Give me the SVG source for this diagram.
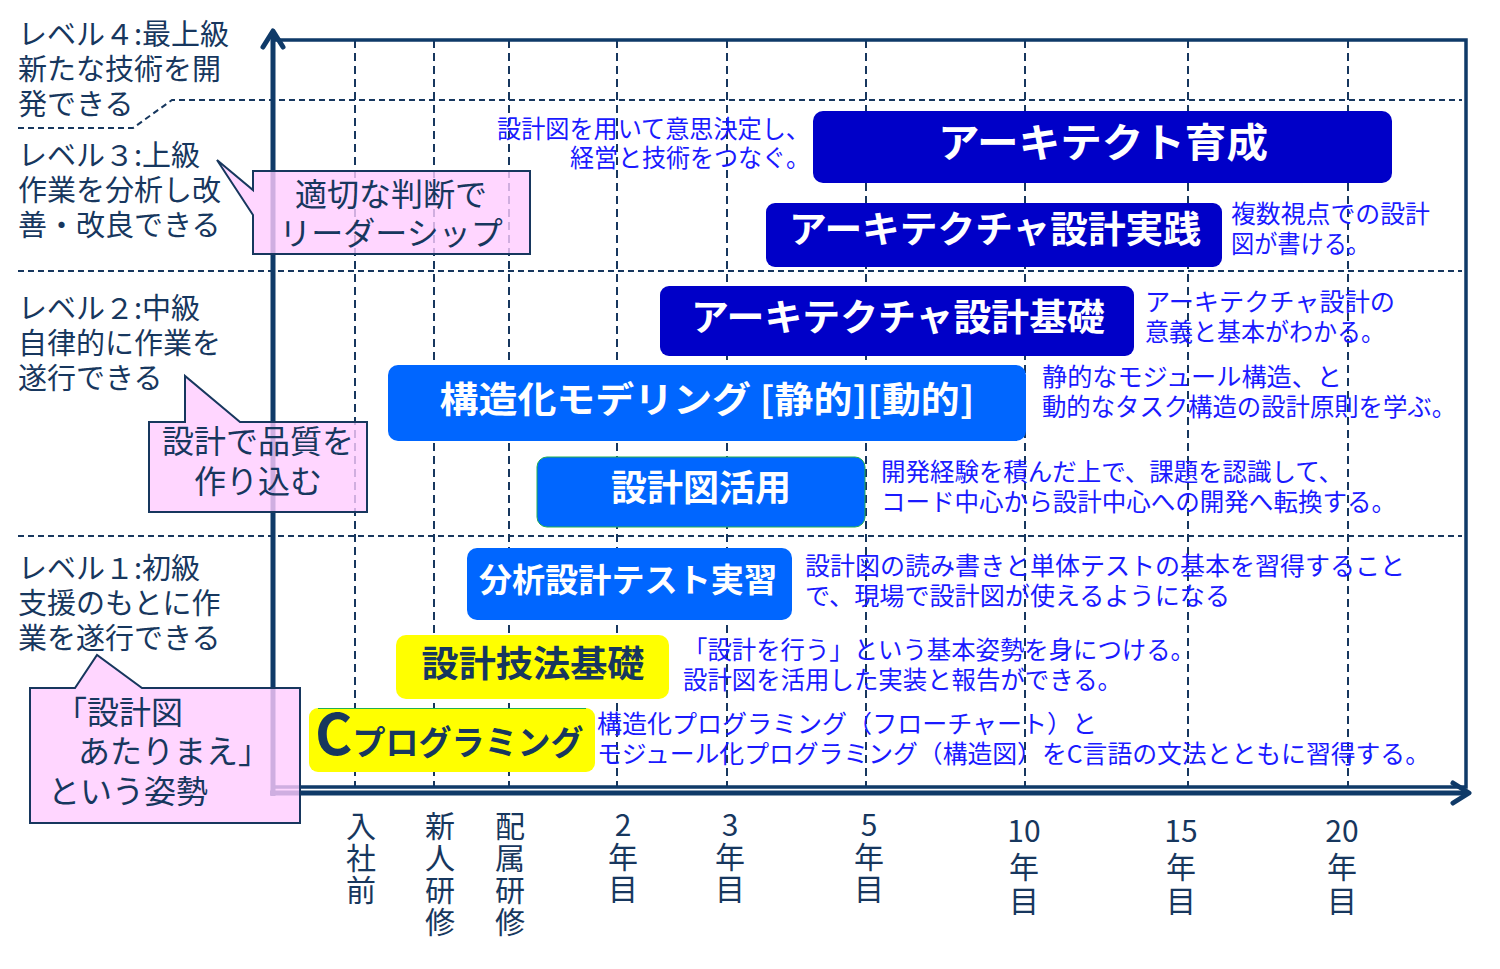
<svg xmlns="http://www.w3.org/2000/svg" width="1500" height="969" viewBox="0 0 1500 969">
<defs>
<style>
.lvl{font-family:"Noto Sans CJK JP","Noto Sans",sans-serif;font-size:29px;fill:#17375E}
.ax{font-family:"Noto Sans CJK JP","Noto Sans",sans-serif;font-size:30px;fill:#17375E;text-anchor:middle}
.desc{font-family:"Noto Sans CJK JP","Noto Sans",sans-serif;font-size:24.5px;fill:#1a1aff}
.bt{font-family:"Noto Sans CJK JP","Noto Sans",sans-serif;font-weight:bold;fill:#ffffff;text-anchor:middle}
.yt{font-family:"Noto Sans CJK JP","Noto Sans",sans-serif;font-weight:bold;fill:#17375E}
.co{font-family:"Noto Sans CJK JP","Noto Sans",sans-serif;font-size:32px;fill:#17375E}
.hd{stroke:#17375E;stroke-width:2;stroke-dasharray:6 4;fill:none}
.vd{stroke:#17375E;stroke-width:2;stroke-dasharray:8 5;fill:none}
.dk{fill:#0000C8}
.lt{fill:#0066FF}
.yl{fill:#FFFF00}
.call{fill:#FFCCFF;fill-opacity:0.8;stroke:#17375E;stroke-width:2}
</style>
</defs>
<rect width="1500" height="969" fill="#ffffff"/>

<g id="grid">
<line class="vd" x1="355" y1="40" x2="355" y2="787"/>
<line class="vd" x1="434" y1="40" x2="434" y2="787"/>
<line class="vd" x1="509" y1="40" x2="509" y2="787"/>
<line class="vd" x1="617" y1="40" x2="617" y2="787"/>
<line class="vd" x1="727" y1="40" x2="727" y2="787"/>
<line class="vd" x1="866" y1="40" x2="866" y2="787"/>
<line class="vd" x1="1025" y1="40" x2="1025" y2="787"/>
<line class="vd" x1="1188" y1="40" x2="1188" y2="787"/>
<line class="vd" x1="1348" y1="40" x2="1348" y2="787"/>
<polyline class="hd" points="18,128 133,128 172,100 1462,100"/>
<line class="hd" x1="18" y1="271" x2="1462" y2="271"/>
<line class="hd" x1="18" y1="536" x2="1462" y2="536"/>
</g>

<g id="frame">
<polyline points="273,40 1466,40 1466,787 273,787" fill="none" stroke="#0f3a68" stroke-width="3.5"/>
<line x1="273" y1="796" x2="273" y2="32" stroke="#0f3a68" stroke-width="5"/>
<polyline points="263,47 273,31 283,47" fill="none" stroke="#0f3a68" stroke-width="5" stroke-linecap="round" stroke-linejoin="round"/>
<line x1="270" y1="793" x2="1468" y2="793" stroke="#0f3a68" stroke-width="5"/>
<polyline points="1453,783 1469,793 1453,803" fill="none" stroke="#0f3a68" stroke-width="5" stroke-linecap="round" stroke-linejoin="round"/>
</g>

<g id="levels">
<text class="lvl" x="18" y="45">レベル４:最上級</text>
<text class="lvl" x="18" y="80">新たな技術を開</text>
<text class="lvl" x="18" y="115">発できる</text>
<text class="lvl" x="18" y="166">レベル３:上級</text>
<text class="lvl" x="18" y="201">作業を分析し改</text>
<text class="lvl" x="18" y="236">善・改良できる</text>
<text class="lvl" x="18" y="319">レベル２:中級</text>
<text class="lvl" x="18" y="354">自律的に作業を</text>
<text class="lvl" x="18" y="389">遂行できる</text>
<text class="lvl" x="18" y="579">レベル１:初級</text>
<text class="lvl" x="18" y="614">支援のもとに作</text>
<text class="lvl" x="18" y="649">業を遂行できる</text>
</g>

<g id="xlabels">
<text class="ax" x="361"><tspan x="361" y="837">入</tspan><tspan x="361" y="869">社</tspan><tspan x="361" y="901">前</tspan></text>
<text class="ax" x="440"><tspan x="440" y="837">新</tspan><tspan x="440" y="869">人</tspan><tspan x="440" y="901">研</tspan><tspan x="440" y="933">修</tspan></text>
<text class="ax" x="510"><tspan x="510" y="837">配</tspan><tspan x="510" y="869">属</tspan><tspan x="510" y="901">研</tspan><tspan x="510" y="933">修</tspan></text>
<text class="ax" x="623"><tspan x="623" y="836">2</tspan><tspan x="623" y="868">年</tspan><tspan x="623" y="900">目</tspan></text>
<text class="ax" x="730"><tspan x="730" y="836">3</tspan><tspan x="730" y="868">年</tspan><tspan x="730" y="900">目</tspan></text>
<text class="ax" x="869"><tspan x="869" y="836">5</tspan><tspan x="869" y="868">年</tspan><tspan x="869" y="900">目</tspan></text>
<text class="ax" x="1024"><tspan x="1024" y="842">10</tspan><tspan x="1024" y="878">年</tspan><tspan x="1024" y="912">目</tspan></text>
<text class="ax" x="1181"><tspan x="1181" y="842">15</tspan><tspan x="1181" y="878">年</tspan><tspan x="1181" y="912">目</tspan></text>
<text class="ax" x="1342"><tspan x="1342" y="842">20</tspan><tspan x="1342" y="878">年</tspan><tspan x="1342" y="912">目</tspan></text>
</g>

<g id="node-architect">
<rect class="dk" x="813" y="111" width="579" height="72" rx="10"/>
<text class="bt" x="1103" y="157" font-size="40" textLength="330" lengthAdjust="spacingAndGlyphs">アーキテクト育成</text>
<text class="desc" x="810" y="138" text-anchor="end" textLength="313" lengthAdjust="spacingAndGlyphs">設計図を用いて意思決定し、</text>
<text class="desc" x="810" y="167" text-anchor="end" textLength="240" lengthAdjust="spacingAndGlyphs">経営と技術をつなぐ。</text>
</g>

<g id="node-practice">
<rect class="dk" x="766" y="203" width="456" height="64" rx="9"/>
<text class="bt" x="995" y="243" font-size="37" textLength="412" lengthAdjust="spacingAndGlyphs">アーキテクチャ設計実践</text>
<text class="desc" x="1231" y="223" textLength="199" lengthAdjust="spacingAndGlyphs">複数視点での設計</text>
<text class="desc" x="1231" y="253" textLength="139" lengthAdjust="spacingAndGlyphs">図が書ける。</text>
</g>

<g id="node-basic">
<rect class="dk" x="660" y="286" width="474" height="70" rx="9"/>
<text class="bt" x="898" y="331" font-size="37" textLength="414" lengthAdjust="spacingAndGlyphs">アーキテクチャ設計基礎</text>
<text class="desc" x="1145" y="311" textLength="250" lengthAdjust="spacingAndGlyphs">アーキテクチャ設計の</text>
<text class="desc" x="1145" y="341" textLength="240" lengthAdjust="spacingAndGlyphs">意義と基本がわかる。</text>
</g>

<g id="node-modeling">
<rect class="lt" x="388" y="365" width="638" height="76" rx="10"/>
<text class="bt" x="707" y="413" font-size="36" textLength="535" lengthAdjust="spacingAndGlyphs">構造化モデリング [静的][動的]</text>
<text class="desc" x="1042" y="386" textLength="300" lengthAdjust="spacingAndGlyphs">静的なモジュール構造、と</text>
<text class="desc" x="1042" y="416" textLength="414" lengthAdjust="spacingAndGlyphs">動的なタスク構造の設計原則を学ぶ。</text>
</g>

<g id="node-utilize">
<rect class="lt" x="537" y="457" width="328" height="70" rx="10" stroke="#22b050" stroke-width="1"/>
<text class="bt" x="701" y="501" font-size="36" textLength="180" lengthAdjust="spacingAndGlyphs">設計図活用</text>
<text class="desc" x="881" y="481" textLength="462" lengthAdjust="spacingAndGlyphs">開発経験を積んだ上で、課題を認識して、</text>
<text class="desc" x="881" y="511" textLength="515" lengthAdjust="spacingAndGlyphs">コード中心から設計中心への開発へ転換する。</text>
</g>

<g id="node-analysis">
<rect class="lt" x="467" y="548" width="325" height="72" rx="10"/>
<text class="bt" x="628" y="592" font-size="33" textLength="298" lengthAdjust="spacingAndGlyphs">分析設計テスト実習</text>
<text class="desc" x="805" y="575" textLength="600" lengthAdjust="spacingAndGlyphs">設計図の読み書きと単体テストの基本を習得すること</text>
<text class="desc" x="805" y="605" textLength="425" lengthAdjust="spacingAndGlyphs">で、現場で設計図が使えるようになる</text>
</g>

<g id="node-technique">
<rect class="yl" x="396" y="635" width="273" height="64" rx="10"/>
<text class="yt" x="533" y="677" font-size="36" text-anchor="middle" textLength="223" lengthAdjust="spacingAndGlyphs">設計技法基礎</text>
<text class="desc" x="683" y="659" textLength="512" lengthAdjust="spacingAndGlyphs">「設計を行う」という基本姿勢を身につける。</text>
<text class="desc" x="683" y="689" textLength="439" lengthAdjust="spacingAndGlyphs">設計図を活用した実装と報告ができる。</text>
</g>

<g id="node-cprog">
<rect class="yl" x="309" y="708" width="286" height="64" rx="9"/>
<line x1="318" y1="708.5" x2="586" y2="708.5" stroke="#22b050" stroke-width="1"/>
<text class="yt" x="315" y="755"><tspan font-size="57">C</tspan><tspan font-size="34" textLength="231" lengthAdjust="spacingAndGlyphs">プログラミング</tspan></text>
<text class="desc" x="597" y="733" textLength="500" lengthAdjust="spacingAndGlyphs">構造化プログラミング（フローチャート）と</text>
<text class="desc" x="597" y="763" textLength="833" lengthAdjust="spacingAndGlyphs">モジュール化プログラミング（構造図）をC言語の文法とともに習得する。</text>
</g>

<g id="callout-leader">
<path class="call" d="M253,171 H530 V254 H253 V215 L217,160 L253,190 Z"/>
<text class="co" x="391" y="206" text-anchor="middle">適切な判断で</text>
<text class="co" x="391" y="245" text-anchor="middle">リーダーシップ</text>
</g>

<g id="callout-quality">
<path class="call" d="M149,422 H185 V376 L240,422 H367 V512 H149 Z"/>
<text class="co" x="258" y="453" text-anchor="middle">設計で品質を</text>
<text class="co" x="258" y="493" text-anchor="middle">作り込む</text>
</g>

<g id="callout-attitude">
<path class="call" d="M30,688 H75 L97,655 L142,688 H300 V823 H30 Z"/>
<text class="co" x="55" y="724">「設計図</text>
<text class="co" x="78" y="763">あたりまえ」</text>
<text class="co" x="48" y="803">という姿勢</text>
</g>
</svg>
